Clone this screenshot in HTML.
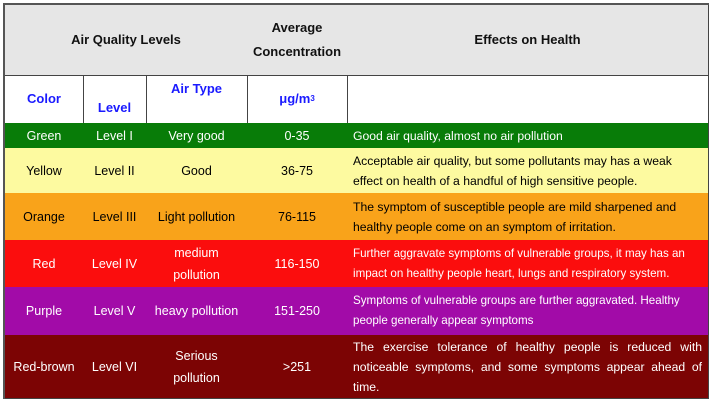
<!DOCTYPE html>
<html><head><style>
body{margin:0;width:711px;height:403px;background:#fff;position:relative;overflow:hidden;font-family:"Liberation Sans",Arial,sans-serif;font-size:12.5px}
.c{position:absolute;box-sizing:border-box;border-right:1px solid #444;border-bottom:1px solid #444;display:flex;align-items:center;justify-content:center;text-align:center;line-height:18px}
.t{justify-content:flex-start;text-align:left;padding:0 6px;line-height:20px;font-size:12.2px}
.h{background:#e6e6e6;font-weight:bold;color:#111;font-size:13px}
.b{color:#1a1aff;font-weight:bold;font-size:13px}
.w{color:#fff}
</style></head><body>
<div style="position:absolute;left:3px;top:3px;width:706px;height:396px;border:2px solid #555;border-right:none;border-bottom:none;box-sizing:border-box"></div>
<div class="c h" style="left:5px;top:5px;width:243px;height:71px">Air Quality Levels</div>
<div class="c h" style="left:247px;top:5px;width:101px;height:71px;line-height:24px">Average<br>Concentration</div>
<div class="c h" style="left:347px;top:5px;width:362px;height:71px">Effects on Health</div>
<div class="c b" style="left:5px;top:75px;width:79px;height:49px">Color</div>
<div class="c b" style="left:83px;top:75px;width:64px;height:49px;align-items:flex-end;padding-bottom:6px">Level</div>
<div class="c b" style="left:146px;top:75px;width:102px;height:49px;align-items:flex-start;padding-top:5px">Air Type</div>
<div class="c b" style="left:247px;top:75px;width:101px;height:49px">μg/m<sup style="font-size:8px">3</sup></div>
<div class="c" style="left:347px;top:75px;width:362px;height:49px"></div>
<div class="c w" style="background:#087c08;left:5px;top:123px;width:79px;height:26px">Green</div>
<div class="c w" style="background:#087c08;left:83px;top:123px;width:64px;height:26px">Level I</div>
<div class="c w" style="background:#087c08;left:146px;top:123px;width:102px;height:26px">Very good</div>
<div class="c w" style="background:#087c08;left:247px;top:123px;width:101px;height:26px">0-35</div>
<div class="c w t" style="background:#087c08;left:347px;top:123px;width:362px;height:26px">Good air quality, almost no air pollution</div>
<div class="c" style="background:#fdfaa0;left:5px;top:148px;width:79px;height:46px">Yellow</div>
<div class="c" style="background:#fdfaa0;left:83px;top:148px;width:64px;height:46px">Level II</div>
<div class="c" style="background:#fdfaa0;left:146px;top:148px;width:102px;height:46px">Good</div>
<div class="c" style="background:#fdfaa0;left:247px;top:148px;width:101px;height:46px">36-75</div>
<div class="c t" style="background:#fdfaa0;left:347px;top:148px;width:362px;height:46px;padding-right:30px">Acceptable air quality, but some pollutants may has a weak effect on health of a handful of high sensitive people.</div>
<div class="c" style="background:#f9a31a;left:5px;top:193px;width:79px;height:48px">Orange</div>
<div class="c" style="background:#f9a31a;left:83px;top:193px;width:64px;height:48px">Level III</div>
<div class="c" style="background:#f9a31a;left:146px;top:193px;width:102px;height:48px">Light pollution</div>
<div class="c" style="background:#f9a31a;left:247px;top:193px;width:101px;height:48px">76-115</div>
<div class="c t" style="background:#f9a31a;left:347px;top:193px;width:362px;height:48px">The symptom of susceptible people are mild sharpened and healthy people come on an symptom of irritation.</div>
<div class="c w" style="background:#fb0d0d;left:5px;top:240px;width:79px;height:48px">Red</div>
<div class="c w" style="background:#fb0d0d;left:83px;top:240px;width:64px;height:48px">Level IV</div>
<div class="c w" style="background:#fb0d0d;left:146px;top:240px;width:102px;height:48px;line-height:22px">medium<br>pollution</div>
<div class="c w" style="background:#fb0d0d;left:247px;top:240px;width:101px;height:48px">116-150</div>
<div class="c w t" style="background:#fb0d0d;left:347px;top:240px;width:362px;height:48px;font-size:11.6px">Further aggravate symptoms of vulnerable groups, it may has an impact on healthy people heart, lungs and respiratory system.</div>
<div class="c w" style="background:#a20ba8;left:5px;top:287px;width:79px;height:49px">Purple</div>
<div class="c w" style="background:#a20ba8;left:83px;top:287px;width:64px;height:49px">Level V</div>
<div class="c w" style="background:#a20ba8;left:146px;top:287px;width:102px;height:49px">heavy pollution</div>
<div class="c w" style="background:#a20ba8;left:247px;top:287px;width:101px;height:49px">151-250</div>
<div class="c w t" style="background:#a20ba8;left:347px;top:287px;width:362px;height:49px;font-size:11.6px">Symptoms of vulnerable groups are further aggravated. Healthy people generally appear symptoms</div>
<div class="c w" style="background:#7c0404;left:5px;top:335px;width:79px;height:64px">Red-brown</div>
<div class="c w" style="background:#7c0404;left:83px;top:335px;width:64px;height:64px">Level VI</div>
<div class="c w" style="background:#7c0404;left:146px;top:335px;width:102px;height:64px;line-height:22px">Serious<br>pollution</div>
<div class="c w" style="background:#7c0404;left:247px;top:335px;width:101px;height:64px">&gt;251</div>
<div class="c w t" style="background:#7c0404;left:347px;top:335px;width:362px;height:64px;text-align:justify;text-align-last:left;align-items:flex-start;padding-top:2px">The exercise tolerance of healthy people is reduced with noticeable symptoms, and some symptoms appear ahead of time.</div>
</body></html>
